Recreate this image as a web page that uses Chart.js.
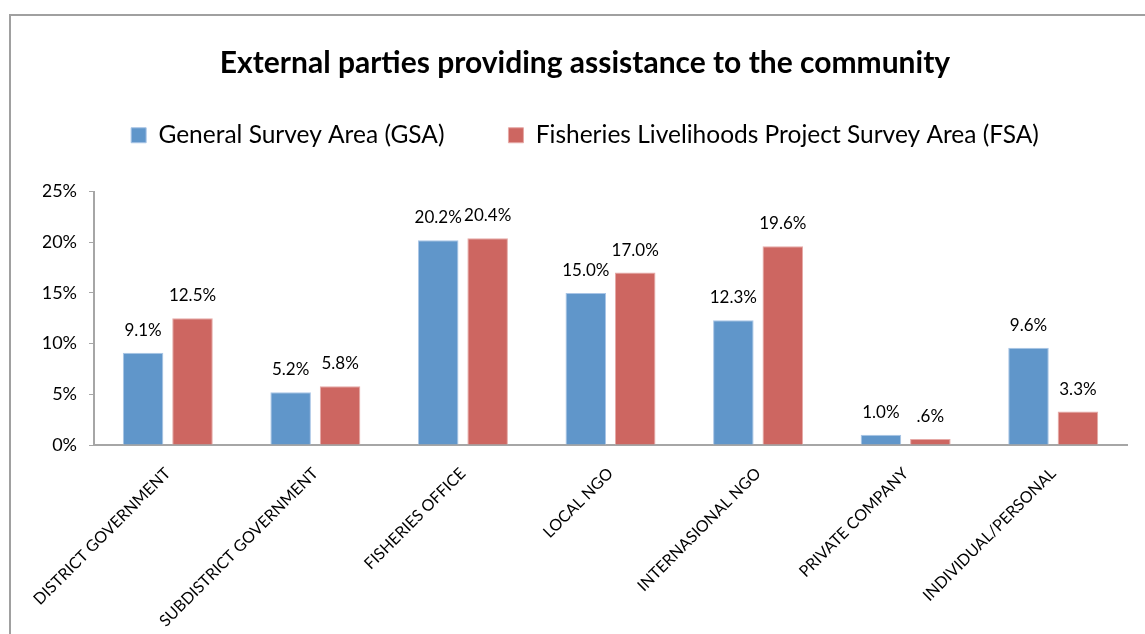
<!DOCTYPE html>
<html>
<head>
<meta charset="utf-8">
<script src="https://cdn.jsdelivr.net/npm/chart.js@4.4.1/dist/chart.umd.min.js"></script>
<style>
  html, body { margin: 0; padding: 0; background: #ffffff; }
  #wrap { position: relative; width: 1145px; height: 634px; }
</style>
</head>
<body>
<div id="wrap"><canvas id="chart" width="1145" height="634"></canvas></div>
<script>
// Categories and survey shares (percent)
const categories = [
  'DISTRICT GOVERNMENT',
  'SUBDISTRICT GOVERNMENT',
  'FISHERIES OFFICE',
  'LOCAL NGO',
  'INTERNASIONAL NGO',
  'PRIVATE COMPANY',
  'INDIVIDUAL/PERSONAL'
];
const gsaValues = [9.1, 5.2, 20.2, 15.0, 12.3, 1.0, 9.6];
const fsaValues = [12.5, 5.8, 20.4, 17.0, 19.6, 0.6, 3.3];
const seriesNames = ['General Survey Area (GSA)', 'Fisheries Livelihoods Project Survey Area (FSA)'];
const yTicks = [0, 5, 10, 15, 20, 25];
const chartTitle = 'External parties providing assistance to the community';

const FONT = 'Lato, "Open Sans", sans-serif';

// Excel-style percent label: one decimal, no leading zero below 1
function pctLabel(v) {
  let s = v.toFixed(1);
  if (s.startsWith('0.')) s = s.slice(1);
  return s + '%';
}

// Gray frame around the chart object
const framePlugin = {
  id: 'frame',
  beforeDraw(chart) {
    const ctx = chart.ctx;
    ctx.save();
    ctx.strokeStyle = '#a0a0a0';
    ctx.lineWidth = 2;
    ctx.beginPath();
    ctx.moveTo(10, chart.height + 2);
    ctx.lineTo(10, 15);
    ctx.lineTo(chart.width + 2, 15);
    ctx.stroke();
    ctx.restore();
  }
};

// Value labels above each bar
const valueLabels = {
  id: 'valueLabels',
  afterDatasetsDraw(chart) {
    const ctx = chart.ctx;
    ctx.save();
    ctx.font = '17px ' + FONT;
    ctx.fillStyle = '#000000';
    ctx.textAlign = 'center';
    ctx.textBaseline = 'alphabetic';
    chart.data.datasets.forEach((ds, di) => {
      const meta = chart.getDatasetMeta(di);
      meta.data.forEach((bar, i) => {
        ctx.fillText(pctLabel(ds.data[i]), bar.x, bar.y - 17);
      });
    });
    ctx.restore();
  }
};

new Chart(document.getElementById('chart'), {
  type: 'bar',
  data: {
    labels: categories,
    datasets: [
      {
        label: seriesNames[0],
        data: gsaValues,
        backgroundColor: '#6096ca',
        borderColor: '#a9c5e6',
        borderWidth: 1
      },
      {
        label: seriesNames[1],
        data: fsaValues,
        backgroundColor: '#cd6661',
        borderColor: '#e6a9a6',
        borderWidth: 1
      }
    ]
  },
  options: {
    responsive: false,
    animation: false,
    devicePixelRatio: 1,
    layout: { padding: { left: 43, right: 18, top: 0, bottom: 0 } },
    datasets: {
      bar: { categoryPercentage: 0.67, barPercentage: 0.82 }
    },
    plugins: {
      title: {
        display: true,
        text: chartTitle,
        color: '#000000',
        font: { family: FONT, size: 30, weight: 'bold', lineHeight: 1.0 },
        padding: { top: 48, bottom: -19 }
      },
      // blank spacer between the legend and the plot area
      subtitle: {
        display: true,
        text: ' ',
        weight: 500,
        font: { family: FONT, size: 10, lineHeight: 1.0 },
        padding: { top: 0, bottom: 24 }
      },
      legend: {
        display: true,
        position: 'top',
        labels: {
          color: '#000000',
          font: { family: FONT, size: 24.5 },
          boxWidth: 15,
          boxHeight: 15,
          padding: 64
        }
      },
      tooltip: { enabled: false }
    },
    scales: {
      x: {
        grid: { display: false, drawTicks: false },
        border: { display: true, color: '#a6a6a6', width: 2 },
        ticks: {
          color: '#000000',
          font: { family: FONT, size: 16 },
          minRotation: 45,
          maxRotation: 45,
          autoSkip: false,
          padding: 19
        },
        afterFit(scale) { scale.height = 189; }
      },
      y: {
        min: 0,
        max: 25,
        afterBuildTicks(scale) { scale.ticks = yTicks.map(v => ({ value: v })); },
        grid: { drawOnChartArea: false, drawTicks: true, tickLength: 5, color: '#a6a6a6', lineWidth: 1 },
        border: { display: true, color: '#a6a6a6', width: 2 },
        ticks: {
          color: '#000000',
          font: { family: FONT, size: 18 },
          padding: 12,
          callback: v => v + '%'
        },
        afterFit(scale) { scale.width = 51; }
      }
    }
  },
  plugins: [framePlugin, valueLabels]
});
</script>
</body>
</html>
